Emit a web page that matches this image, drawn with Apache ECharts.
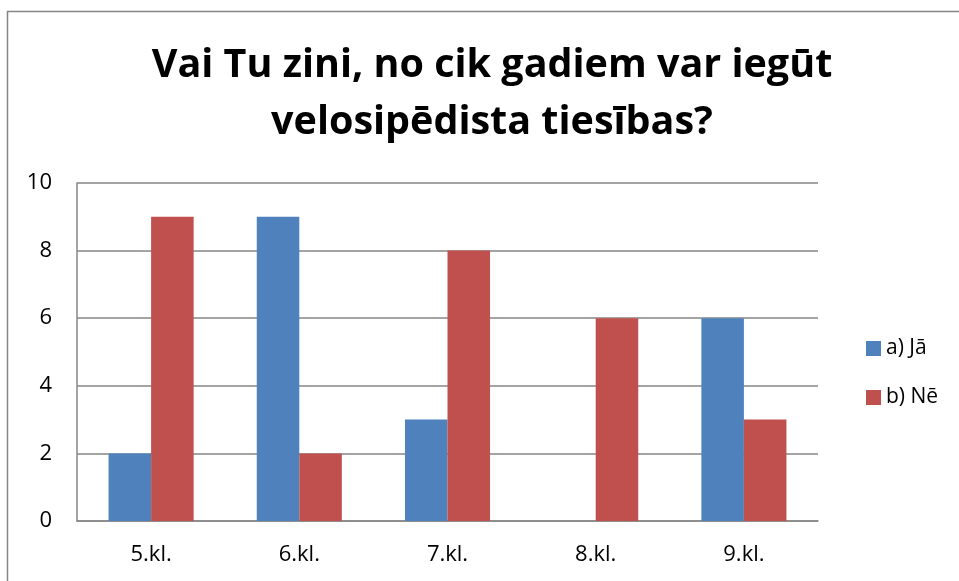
<!DOCTYPE html>
<html>
<head>
<meta charset="utf-8">
<script src="https://cdn.jsdelivr.net/npm/echarts@6/dist/echarts.min.js"></script>
<style>
    html, body { margin: 0; padding: 0; background: #fff; }
    #chart { width: 959px; height: 581px; }
</style>
</head>
<body>
<div id="chart"></div>
<script>
// 类别与数据
const categories = ['5.kl.', '6.kl.', '7.kl.', '8.kl.', '9.kl.'];
const seriesNames = ['a) Jā', 'b) Nē'];
const yesValues = [2, 9, 3, 0, 6];
const noValues = [9, 2, 8, 6, 3];
const yTicks = [0, 2, 4, 6, 8, 10];

const font = '"Open Sans", Lato, sans-serif';

const initChart = function () {
    const option = {
        animation: false,
        title: {
            text: 'Vai Tu zini, no cik gadiem var iegūt\nvelosipēdista tiesības?',
            left: 487,
            top: 32,
            textAlign: 'center',
            textStyle: {
                fontFamily: font,
                fontSize: 39.5,
                fontWeight: 'bold',
                color: '#000',
                lineHeight: 57
            }
        },
        graphic: [{
            type: 'rect',
            shape: { x: 7.5, y: 11.5, width: 1000, height: 1000 },
            style: { fill: 'none', stroke: '#868686', lineWidth: 1.5 },
            silent: true
        }],
        legend: {
            orient: 'vertical',
            left: 861,
            top: 332,
            itemWidth: 15,
            itemHeight: 15,
            itemGap: 26,
            icon: 'rect',
            textStyle: { fontFamily: font, fontSize: 21, color: '#000', lineHeight: 23 },
            data: seriesNames
        },
        grid: {
            left: 77,
            right: 141,
            top: 183,
            bottom: 60
        },
        xAxis: {
            type: 'category',
            data: categories,
            axisLine: { lineStyle: { color: '#868686', width: 1.5 } },
            axisTick: { show: false },
            axisLabel: { fontFamily: font, fontSize: 22, color: '#000', margin: 23 }
        },
        yAxis: {
            type: 'value',
            min: yTicks[0],
            max: yTicks[yTicks.length - 1],
            interval: 2,
            axisLine: { show: true, lineStyle: { color: '#868686', width: 1.5 } },
            axisTick: { show: false },
            axisLabel: { fontFamily: font, fontSize: 22, color: '#000', margin: 25 },
            splitLine: { lineStyle: { color: '#868686', width: 1.5 } }
        },
        series: [
            {
                name: seriesNames[0],
                type: 'bar',
                data: yesValues,
                barGap: '0%',
                barCategoryGap: '42.6%',
                itemStyle: { color: '#4F81BD' }
            },
            {
                name: seriesNames[1],
                type: 'bar',
                data: noValues,
                itemStyle: { color: '#C0504D' }
            }
        ]
    };
    const chart = echarts.init(document.getElementById('chart'));
    chart.setOption(option);
};

initChart();
</script>
</body>
</html>
